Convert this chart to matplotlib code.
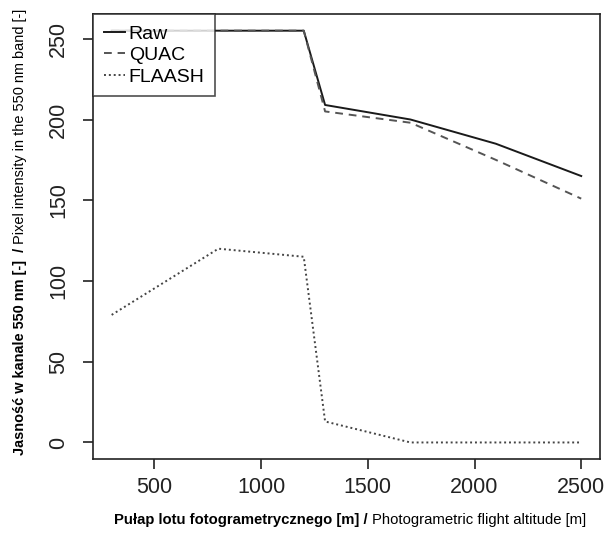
import matplotlib
matplotlib.use("Agg")
import matplotlib.pyplot as plt
from matplotlib import font_manager

# data
altitude = [300, 800, 1200, 1300, 1700, 2100, 2500]
raw = [255, 255, 255, 209, 200, 185, 165]
quac = [255, 255, 255, 205, 198, 175, 151]
flaash = [79, 120, 115, 13, 0, 0, 0]

xticks = [500, 1000, 1500, 2000, 2500]
yticks = [0, 50, 100, 150, 200, 250]

names = [f.name for f in font_manager.fontManager.ttflist]
narrow = "Liberation Sans Narrow" if "Liberation Sans Narrow" in names else "Liberation Sans"
plt.rcParams['font.family'] = ["Liberation Sans", "DejaVu Sans"]

fig = plt.figure(figsize=(6.11, 5.47), dpi=100)
ax = fig.add_axes([0.152, 0.161, 0.830, 0.813])

ax.plot(altitude, raw, color="#1a1a1a", lw=1.4, ls="-", label="Raw")
ax.plot(altitude, quac, color="#555555", lw=1.4, ls=(0, (4, 3)), label="QUAC")
ax.plot(altitude, flaash, color="#444444", lw=1.4, ls=(0, (1, 1.5)), label="FLAASH")

ax.set_xlim(212, 2588)
ax.set_ylim(-10.2, 265.2)
ax.set_xticks(xticks)
ax.set_yticks(yticks)
ax.set_xticklabels([str(v) for v in xticks], fontsize=15.5, color="#222222")
ax.set_yticklabels([str(v) for v in yticks], fontsize=15.5, color="#222222",
                   rotation=90, va="center")
ax.tick_params(direction="out", length=7, width=1.2, pad=6, color="#222222")
ax.tick_params(axis="y", pad=10)
for s in ax.spines.values():
    s.set_linewidth(1.2)
    s.set_color("#222222")

leg = ax.legend(loc="upper left", fontsize=14, frameon=True, fancybox=False,
                borderaxespad=0, handlelength=1.1, handletextpad=0.2,
                labelspacing=0.2, borderpad=0.55)
leg.get_frame().set_edgecolor("#222222")
leg.get_frame().set_linewidth(1.2)

# axis labels: bold Polish part + regular English part
fig.canvas.draw()
r = fig.canvas.get_renderer()

fs = 12
xb = fig.text(0, 1 - 520 / 547, "Pułap lotu fotogrametrycznego [m] / ", fontsize=fs,
              fontweight="bold", family=narrow, ha="left", va="center")
xr = fig.text(0, 1 - 520 / 547, "Photogrametric flight altitude [m]", fontsize=fs,
              family=narrow, ha="left", va="center")
w = xb.get_window_extent(r).width + xr.get_window_extent(r).width
k = 474 / w
xb.set_fontsize(fs * k)
xr.set_fontsize(fs * k)
wb = xb.get_window_extent(r).width
wr = xr.get_window_extent(r).width
x0 = 350 - (wb + wr) / 2
xb.set_x(x0 / 611)
xr.set_x((x0 + wb) / 611)

yb = fig.text(20 / 611, 0, "Jasność w kanale 550 nm [-]  / ", fontsize=fs,
              fontweight="bold", family=narrow, rotation=90, ha="center", va="bottom")
yr = fig.text(20 / 611, 0, "Pixel intensity in the 550 nm band [-]", fontsize=fs,
              family=narrow, rotation=90, ha="center", va="bottom")
h = yb.get_window_extent(r).height + yr.get_window_extent(r).height
k = 445 / h
yb.set_fontsize(fs * k)
yr.set_fontsize(fs * k)
hb = yb.get_window_extent(r).height
hr = yr.get_window_extent(r).height
y0 = (547 - 232) - (hb + hr) / 2
yb.set_y(y0 / 547)
yr.set_y((y0 + hb) / 547)

fig.savefig("out.png", dpi=100)
